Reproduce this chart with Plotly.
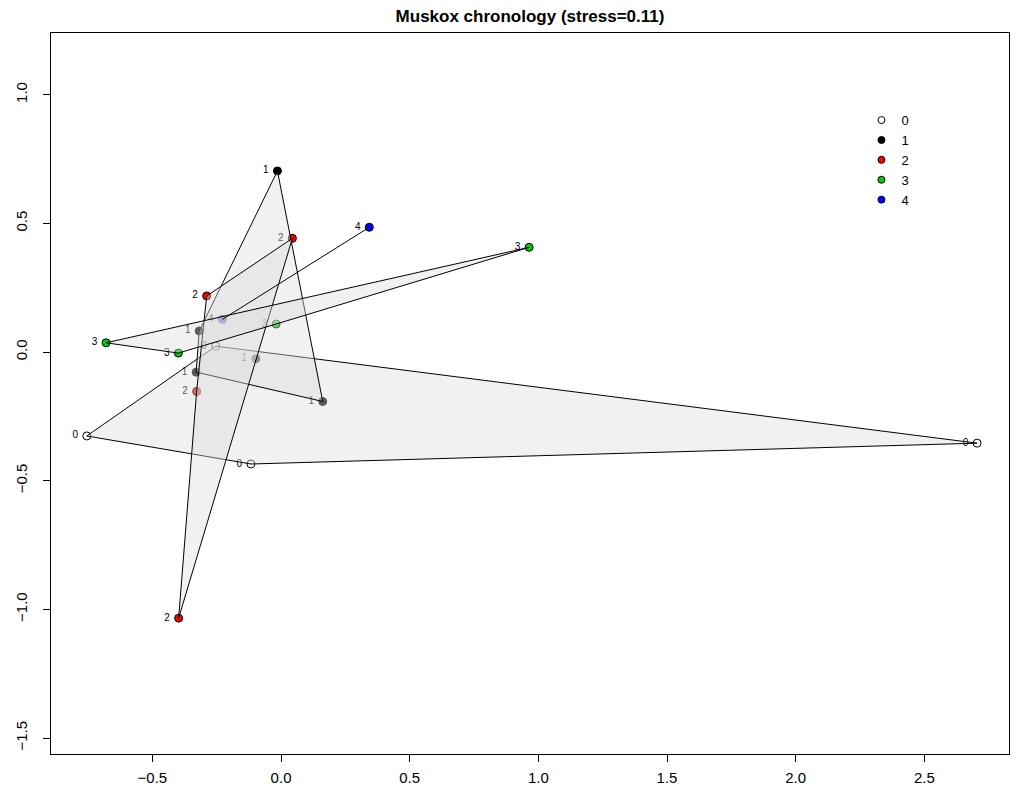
import plotly.graph_objects as go

# ---- data (MDS coordinates) ----
groups = ["0", "1", "2", "3", "4"]
g0_x = [-0.755, -0.117, 2.705, -0.254]
g0_y = [-0.326, -0.435, -0.354, 0.023]
g1_x = [-0.014, -0.318, -0.330, 0.162, -0.098]
g1_y = [0.704, 0.082, -0.078, -0.192, -0.026]
g2_x = [0.044, -0.289, -0.328, -0.398]
g2_y = [0.442, 0.218, -0.153, -1.034]
g3_x = [0.964, -0.680, -0.399, -0.019]
g3_y = [0.407, 0.036, -0.004, 0.109]
g4_x = [0.343, -0.228]
g4_y = [0.485, 0.127]

xs = [g0_x, g1_x, g2_x, g3_x, g4_x]
ys = [g0_y, g1_y, g2_y, g3_y, g4_y]
fills = ["white", "black", "#FF0000", "#00CD00", "#0000FF"]

x_ticks = [-0.5, 0.0, 0.5, 1.0, 1.5, 2.0, 2.5]
y_ticks = [-1.5, -1.0, -0.5, 0.0, 0.5, 1.0]

FONT = "Liberation Sans, Arial, sans-serif"


def hull(px, py):
    pts = sorted(set(zip(px, py)))
    if len(pts) <= 2:
        return pts

    def cross(o, a, b):
        return (a[0] - o[0]) * (b[1] - o[1]) - (a[1] - o[1]) * (b[0] - o[0])

    lower, upper = [], []
    for p in pts:
        while len(lower) >= 2 and cross(lower[-2], lower[-1], p) <= 0:
            lower.pop()
        lower.append(p)
    for p in reversed(pts):
        while len(upper) >= 2 and cross(upper[-2], upper[-1], p) <= 0:
            upper.pop()
        upper.append(p)
    return lower[:-1] + upper[:-1]


fig = go.Figure()

# points + labels first (polygons are drawn over them, fading them)
for g, gx, gy, col in zip(groups, xs, ys, fills):
    fig.add_trace(go.Scatter(
        x=gx, y=gy, mode="markers+text", text=[g + "\u00a0"] * len(gx),
        textposition="middle left",
        textfont=dict(family=FONT, size=10, color="black"),
        marker=dict(size=8, color=col, line=dict(color="black", width=1)),
        showlegend=False, hoverinfo="skip", cliponaxis=False))

# legend entries
for g, col in zip(groups, fills):
    fig.add_trace(go.Scatter(
        x=[None], y=[None], mode="markers", name=g,
        marker=dict(size=7, color=col, line=dict(color="black", width=1)),
        showlegend=True))

# convex hull polygons
for g, gx, gy in zip(groups, xs, ys):
    h = hull(gx, gy)
    hx = [p[0] for p in h]
    hy = [p[1] for p in h]
    if len(h) > 2:
        hx.append(hx[0])
        hy.append(hy[0])
        fig.add_trace(go.Scatter(
            x=hx, y=hy, mode="lines", fill="toself",
            fillcolor="rgba(220,220,220,0.4)",
            line=dict(color="black", width=1),
            showlegend=False, hoverinfo="skip"))
    else:
        fig.add_trace(go.Scatter(
            x=hx, y=hy, mode="lines",
            line=dict(color="black", width=1),
            showlegend=False, hoverinfo="skip"))

axis_common = dict(
    showgrid=False, zeroline=False, showline=True, mirror=True,
    linecolor="black", linewidth=1, ticks="outside", ticklen=7,
    tickcolor="black", tickwidth=1, automargin=False,
    tickfont=dict(family=FONT, size=15, color="black"),
)

fig.update_layout(
    width=1016, height=793,
    margin=dict(l=51, r=7, t=33, b=39, autoexpand=False),
    paper_bgcolor="white", plot_bgcolor="white",
    title=dict(text="<b>Muskox chronology (stress=0.11)</b>",
               x=0.5, xref="paper", y=1 - 16 / 793, yref="container",
               xanchor="center", yanchor="middle",
               font=dict(family=FONT, size=17, color="black")),
    xaxis=dict(range=[-0.894, 2.829], tickvals=x_ticks,
               ticktext=[f"{v:.1f}".replace("-", "\u2212") for v in x_ticks],
               ticklabelstandoff=3,
               **axis_common),
    yaxis=dict(range=[-1.562, 1.240], tickvals=y_ticks, tickangle=-90,
               ticktext=[f"{v:.1f}".replace("-", "\u2212") for v in y_ticks],
               ticklabelstandoff=10,
               **axis_common),
    legend=dict(x=0.846, y=0.90, xanchor="left", yanchor="top",
                bgcolor="rgba(0,0,0,0)", borderwidth=0,
                font=dict(family=FONT, size=13, color="black"),
                tracegroupgap=0),
    showlegend=True,
)

fig.write_html("out.html",
               config={"displayModeBar": False},
               post_script="document.body.style.margin='0px';")
